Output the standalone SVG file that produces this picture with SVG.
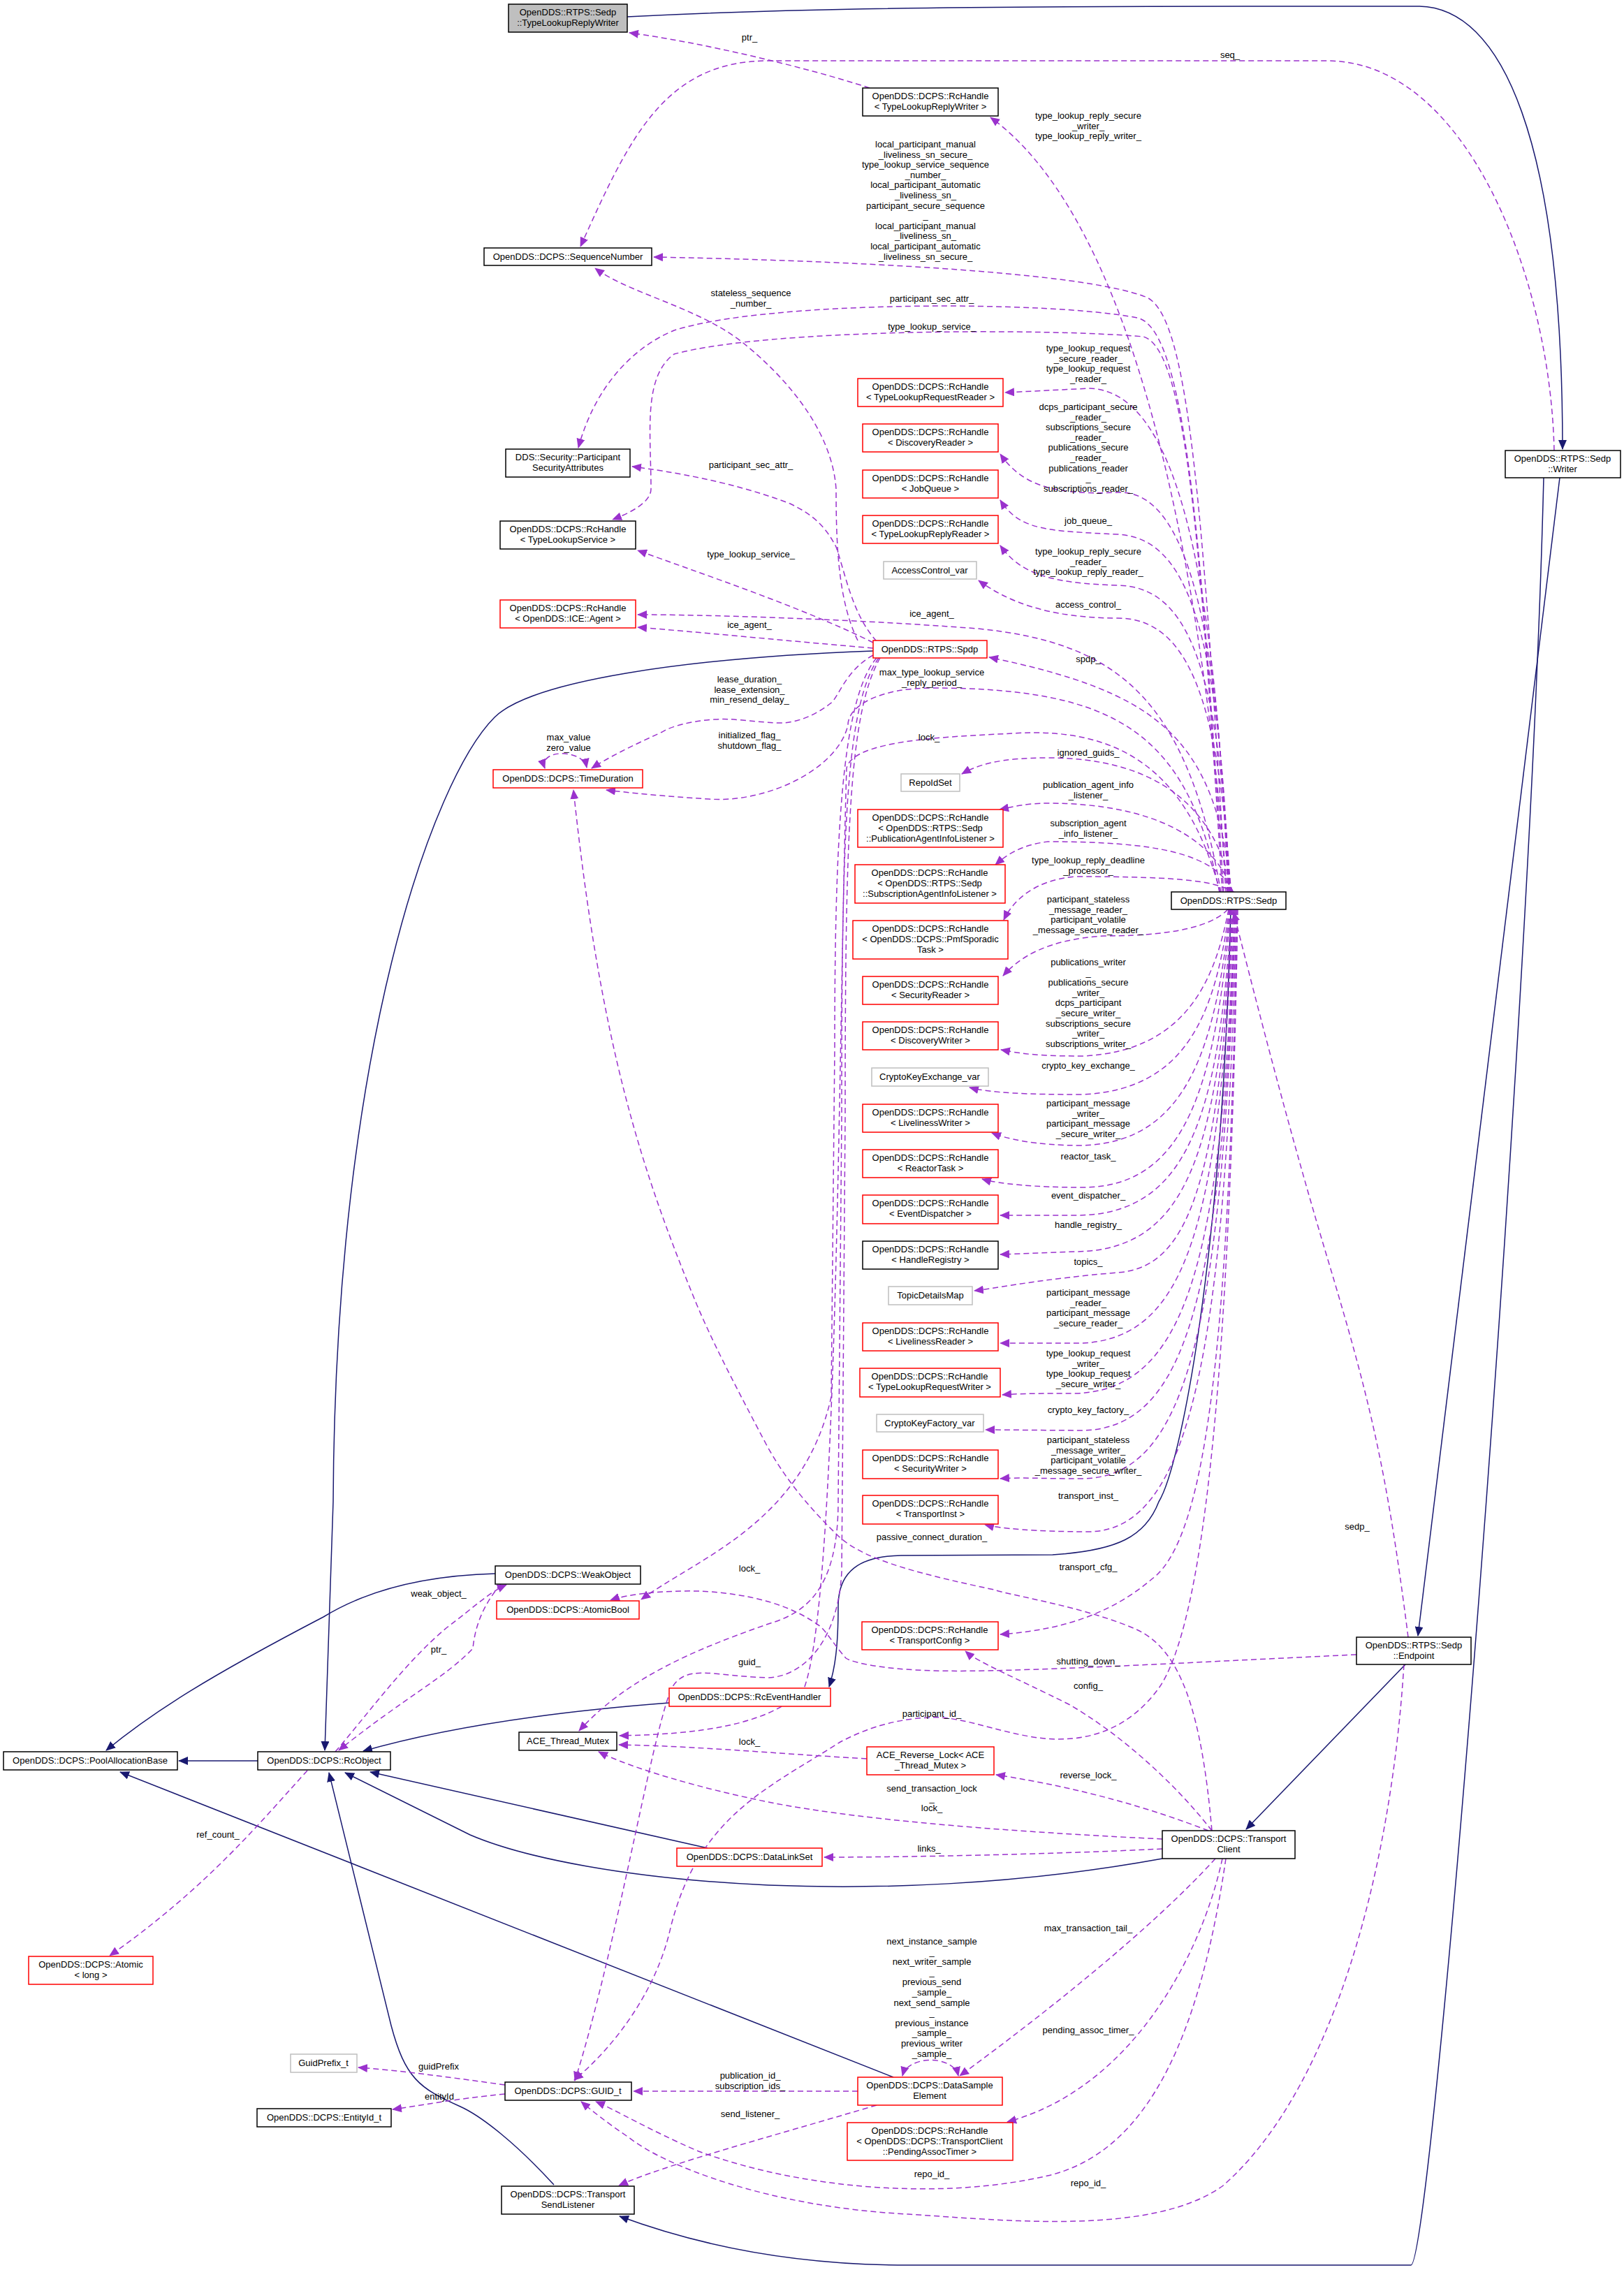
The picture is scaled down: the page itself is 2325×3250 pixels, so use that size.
<svg xmlns="http://www.w3.org/2000/svg" width="2325" height="3250" viewBox="0 0 2325 3250">
<style>
.bg{fill:#fff}
.n rect{fill:#fff;stroke:#000;stroke-width:1.5}
.n.r rect{stroke:#ff0000}
.n.g rect{stroke:#bfbfbf}
.n.s rect{fill:#bfbfbf}
text{font-family:"Liberation Sans",Arial,sans-serif;font-size:13px;fill:#000}
.n text{text-anchor:middle}
.l text,text.l{text-anchor:middle}
.inh{fill:none;stroke:#191970;stroke-width:1.5;marker-end:url(#ai)}
.use{fill:none;stroke:#9a32cd;stroke-width:1.5;stroke-dasharray:8,5;marker-end:url(#au)}
</style>
<defs>
<marker id="ai" markerUnits="userSpaceOnUse" markerWidth="14" markerHeight="12" refX="13" refY="6" orient="auto"><path d="M0,0 L14,6 L0,12 z" fill="#191970"/></marker>
<marker id="au" markerUnits="userSpaceOnUse" markerWidth="14" markerHeight="12" refX="13" refY="6" orient="auto"><path d="M0,0 L14,6 L0,12 z" fill="#9a32cd"/></marker>
<marker id="aus" markerUnits="userSpaceOnUse" markerWidth="14" markerHeight="12" refX="13" refY="6" orient="auto-start-reverse"><path d="M0,0 L14,6 L0,12 z" fill="#9a32cd"/></marker>
</defs>
<rect class="bg" width="2325" height="3250"/>
<g id="edges">
<path class="inh" d="M898,24 C1100,14 1300,9 1800,9 L2030,9 C2150,9 2237,200 2237,643"/>
<path class="inh" d="M2233,684 L2030,2342"/>
<path class="inh" d="M2012,2383 L1784,2619"/>
<path class="inh" d="M1250,932 C980,942 760,975 708,1027 C620,1115 480,1500 477,2150 L465,2506"/>
<path class="inh" d="M709,2253 C600,2256 520,2280 463,2315 C300,2400 220,2450 152,2506"/>
<path class="inh" d="M369,2521 L256,2521"/>
<path class="inh" d="M958,2438 C800,2450 650,2470 520,2507"/>
<path class="inh" d="M1013,2646 L530,2537"/>
<path class="inh" d="M1664,2661 C1450,2700 1250,2705 1100,2699 C900,2690 750,2660 673,2627 L494,2538"/>
<path class="inh" d="M1279,2974 L172,2537"/>
<path class="inh" d="M793,3128 C740,3070 690,3030 659,3016 C600,2990 580,2975 560,2900 L471,2538"/>
<path class="inh" d="M1762,1302 C1750,1800 1690,2100 1659,2150 C1640,2200 1600,2220 1507,2226 L1290,2227 C1230,2228 1200,2250 1200,2300 C1200,2360 1195,2390 1187,2415"/>
<path class="inh" d="M2210,684 C2190,1500 2050,3243 2020,3243 L1300,3243 C1100,3243 960,3200 887,3173"/>

<path class="use" d="M1245,126 C1150,95 1000,60 901,47"/>
<path class="use" d="M2225,645 C2220,400 2100,87 1900,87 L1100,87 C950,87 900,200 831,353"/>
<path class="use" d="M1757,1278 C1710,700 1600,300 1418,168"/>
<path class="use" d="M1755,1278 C1720,700 1700,440 1637,424 C1560,395 1300,375 936,368"/>
<path class="use" d="M1752,1278 C1720,800 1700,470 1628,455 C1500,430 1100,430 965,473 C900,500 850,560 828,641"/>
<path class="use" d="M1750,1278 C1720,800 1700,500 1637,482 C1500,470 1100,470 965,507 C920,540 932,620 932,700 C932,720 900,735 877,744"/>
<path class="use" d="M1758,1278 C1740,800 1680,560 1560,556 L1439,562"/>
<path class="use" d="M1759,1278 C1745,900 1700,700 1600,705 C1500,710 1460,690 1432,650"/>
<path class="use" d="M1760,1278 C1745,900 1700,770 1600,765 C1500,760 1460,760 1432,716"/>
<path class="use" d="M1761,1278 C1745,950 1700,840 1600,838 C1500,835 1460,820 1432,781"/>
<path class="use" d="M1762,1278 C1745,1000 1700,885 1600,885 C1500,885 1440,860 1401,831"/>
<path class="use" d="M1748,1278 C1700,1000 1600,920 1400,900 C1200,885 1000,880 913,880"/>
<path class="use" d="M1763,1278 C1740,1050 1650,990 1416,941"/>
<path class="use" d="M1746,1278 C1700,1050 1600,985 1334,985 C1260,985 1214,1010 1214,1038 C1200,1100 1100,1150 1015,1144 C950,1140 900,1135 868,1131"/>
<path class="use" d="M1747,1278 C1700,1100 1600,1040 1450,1050 C1350,1055 1220,1060 1212,1100 C1200,1500 1200,2300 1150,2420 C1100,2470 1000,2483 887,2485"/>
<path class="use" d="M1764,1278 C1740,1150 1650,1085 1500,1085 C1430,1085 1400,1095 1377,1108"/>
<path class="use" d="M1765,1278 C1740,1200 1650,1150 1500,1150 C1470,1150 1450,1155 1431,1159"/>
<path class="use" d="M1766,1278 C1740,1220 1650,1205 1500,1205 C1460,1210 1440,1225 1425,1238"/>
<path class="use" d="M1768,1278 C1740,1262 1700,1255 1540,1255 C1480,1260 1450,1290 1437,1317"/>
<path class="use" d="M1758,1302 C1740,1320 1700,1340 1580,1340 C1500,1345 1460,1370 1436,1397"/>
<path class="use" d="M1759,1302 C1740,1400 1700,1505 1550,1512 C1480,1512 1460,1508 1433,1503"/>
<path class="use" d="M1760,1302 C1740,1450 1700,1560 1550,1567 C1470,1567 1420,1565 1388,1557"/>
<path class="use" d="M1761,1302 C1740,1500 1700,1635 1550,1640 C1480,1640 1440,1630 1420,1622"/>
<path class="use" d="M1762,1302 C1740,1550 1700,1700 1550,1700 C1480,1700 1430,1695 1406,1688"/>
<path class="use" d="M1763,1302 C1745,1600 1700,1740 1540,1740 L1432,1740"/>
<path class="use" d="M1764,1302 C1745,1650 1700,1790 1540,1792 L1432,1796"/>
<path class="use" d="M1765,1302 C1745,1700 1700,1815 1600,1822 C1500,1830 1420,1845 1395,1848"/>
<path class="use" d="M1766,1302 C1745,1750 1700,1915 1550,1923 L1432,1923"/>
<path class="use" d="M1767,1302 C1750,1800 1700,1990 1540,1995 C1490,1995 1460,1995 1435,1997"/>
<path class="use" d="M1768,1302 C1750,1850 1700,2045 1550,2048 L1411,2047"/>
<path class="use" d="M1769,1302 C1750,1900 1700,2115 1550,2117 C1490,2117 1460,2115 1432,2117"/>
<path class="use" d="M1770,1302 C1755,1950 1700,2190 1560,2193 C1480,2193 1430,2188 1410,2183"/>
<path class="use" d="M1771,1302 C1760,1900 1730,2200 1650,2260 C1580,2320 1500,2335 1432,2340"/>
<path class="use" d="M1772,1302 C1760,2000 1720,2330 1659,2417 C1620,2470 1570,2490 1515,2490 C1450,2490 1380,2455 1330,2459 C1270,2462 1230,2480 1203,2494 C1100,2560 1000,2600 960,2760 C940,2850 880,2930 822,2978"/>
<path class="use" d="M2016,2344 C1985,2100 1960,2000 1900,1800 C1840,1600 1790,1400 1766,1306"/>

<path class="use" d="M1228,917 C1200,860 1197,780 1197,700 C1190,600 1100,520 1064,491 C1000,440 900,420 852,384"/>
<path class="use" d="M1255,918 C1220,880 1210,820 1197,783 C1180,750 1160,735 1131,721 C1050,690 960,675 905,668"/>
<path class="use" d="M1250,920 C1150,870 1000,820 913,788"/>
<path class="use" d="M1250,928 C1100,915 1000,905 913,898"/>
<path class="use" d="M1250,938 C1210,960 1200,1000 1189,1007 C1160,1030 1130,1036 1114,1035 C1070,1033 1050,1028 1023,1030 C990,1032 960,1040 948,1048 C900,1070 870,1085 847,1100"/>
<path class="use" d="M1255,942 C1205,1000 1195,1200 1195,1500 L1190,2000 C1150,2180 1000,2230 918,2290"/>
<path class="use" d="M1258,942 C1210,1010 1205,1200 1205,1600 L1200,2150 C1200,2280 1150,2310 1100,2325 C1000,2360 900,2400 829,2478"/>
<path class="use" d="M1260,942 C1215,1020 1210,1200 1210,1600 L1205,2250 C1200,2350 1150,2400 1100,2402 C1020,2400 980,2380 960,2420 C930,2500 880,2800 823,2979"/>
<path class="use" style="marker-start:url(#aus)" d="M780,1100 C770,1072 835,1072 840,1099"/>
<path class="use" d="M1735,2621 C1720,2450 1690,2360 1625,2332 C1550,2300 1450,2285 1423,2276 C1300,2250 1230,2230 1197,2196 C1150,2150 1120,2110 1097,2068 C1040,1960 1020,1920 998,1869 C920,1680 860,1500 821,1131"/>
<path class="use" d="M1942,2369 C1700,2380 1450,2395 1338,2392 C1260,2390 1220,2380 1211,2374 C1190,2350 1180,2330 1169,2325 C1120,2290 1050,2280 1000,2278 C950,2277 900,2282 874,2291"/>
<path class="use" d="M1735,2621 C1680,2550 1600,2480 1530,2440 C1450,2400 1400,2380 1382,2364"/>
<path class="use" d="M1241,2518 C1100,2510 1000,2500 886,2498"/>
<path class="use" d="M1730,2621 C1650,2590 1550,2560 1426,2541"/>
<path class="use" d="M1664,2633 C1500,2625 1250,2610 1100,2580 C1000,2560 900,2530 857,2508"/>
<path class="use" d="M1664,2647 C1500,2655 1300,2659 1180,2659"/>
<path class="use" d="M1740,2661 C1650,2760 1500,2880 1374,2972"/>
<path class="use" d="M1750,2661 C1720,2800 1620,2990 1442,3038"/>
<path class="use" style="marker-start:url(#aus)" d="M1292,2972 C1300,2942 1365,2942 1372,2972"/>
<path class="use" d="M1228,2994 L907,2994"/>
<path class="use" d="M1255,3014 C1100,3060 950,3100 886,3129"/>
<path class="use" d="M1755,2661 C1720,2900 1650,3080 1500,3115 C1350,3150 1150,3135 1000,3080 C930,3050 880,3020 853,3009"/>
<path class="use" d="M2010,2383 C1990,2700 1900,3000 1750,3130 C1650,3200 1450,3180 1300,3170 C1100,3160 950,3100 900,3060 C870,3040 845,3020 832,3009"/>
<path class="use" d="M440,2535 C380,2600 300,2700 157,2800"/>
<path class="use" d="M480,2508 C530,2450 580,2380 640,2330 C680,2300 700,2280 725,2269"/>
<path class="use" d="M717,2268 C690,2300 680,2330 677,2360 C640,2400 580,2430 485,2506"/>
<path class="use" d="M723,2985 C650,2975 580,2965 513,2960"/>
<path class="use" d="M723,2998 C650,3005 600,3015 562,3020"/>
</g>
<g id="labels" class="l">
<text x="1073" y="58">ptr_</text>
<text x="1761" y="83">seq_</text>
<text x="1558" y="170">type_lookup_reply_secure<tspan x="1558" dy="14.6">_writer_</tspan><tspan x="1558" dy="14.6">type_lookup_reply_writer_</tspan></text>
<text x="1325" y="211">local_participant_manual<tspan x="1325" dy="14.6">_liveliness_sn_secure_</tspan><tspan x="1325" dy="14.6">type_lookup_service_sequence</tspan><tspan x="1325" dy="14.6">_number_</tspan><tspan x="1325" dy="14.6">local_participant_automatic</tspan><tspan x="1325" dy="14.6">_liveliness_sn_</tspan><tspan x="1325" dy="14.6">participant_secure_sequence</tspan><tspan x="1325" dy="14.6">_</tspan><tspan x="1325" dy="14.6">local_participant_manual</tspan><tspan x="1325" dy="14.6">_liveliness_sn_</tspan><tspan x="1325" dy="14.6">local_participant_automatic</tspan><tspan x="1325" dy="14.6">_liveliness_sn_secure_</tspan></text>
<text x="1075" y="424">stateless_sequence<tspan x="1075" dy="14.6">_number_</tspan></text>
<text x="1334" y="432">participant_sec_attr_</text>
<text x="1334" y="472">type_lookup_service_</text>
<text x="1558" y="503">type_lookup_request<tspan x="1558" dy="14.6">_secure_reader_</tspan><tspan x="1558" dy="14.6">type_lookup_request</tspan><tspan x="1558" dy="14.6">_reader_</tspan></text>
<text x="1558" y="587">dcps_participant_secure<tspan x="1558" dy="14.6">_reader_</tspan><tspan x="1558" dy="14.6">subscriptions_secure</tspan><tspan x="1558" dy="14.6">_reader_</tspan><tspan x="1558" dy="14.6">publications_secure</tspan><tspan x="1558" dy="14.6">_reader_</tspan><tspan x="1558" dy="14.6">publications_reader</tspan><tspan x="1558" dy="14.6">_</tspan><tspan x="1558" dy="14.6">subscriptions_reader_</tspan></text>
<text x="1075" y="670">participant_sec_attr_</text>
<text x="1558" y="750">job_queue_</text>
<text x="1075" y="798">type_lookup_service_</text>
<text x="1558" y="794">type_lookup_reply_secure<tspan x="1558" dy="14.6">_reader_</tspan><tspan x="1558" dy="14.6">type_lookup_reply_reader_</tspan></text>
<text x="1558" y="870">access_control_</text>
<text x="1334" y="883">ice_agent_</text>
<text x="1073" y="899">ice_agent_</text>
<text x="1558" y="948">spdp_</text>
<text x="1334" y="967">max_type_lookup_service<tspan x="1334" dy="14.6">_reply_period_</tspan></text>
<text x="1073" y="977">lease_duration_<tspan x="1073" dy="14.6">lease_extension_</tspan><tspan x="1073" dy="14.6">min_resend_delay_</tspan></text>
<text x="1073" y="1057">initialized_flag_<tspan x="1073" dy="14.6">shutdown_flag_</tspan></text>
<text x="814" y="1060">max_value<tspan x="814" dy="14.6">zero_value</tspan></text>
<text x="1330" y="1060">lock_</text>
<text x="1558" y="1082">ignored_guids_</text>
<text x="1558" y="1128">publication_agent_info<tspan x="1558" dy="14.6">_listener_</tspan></text>
<text x="1558" y="1183">subscription_agent<tspan x="1558" dy="14.6">_info_listener_</tspan></text>
<text x="1558" y="1236">type_lookup_reply_deadline<tspan x="1558" dy="14.6">_processor_</tspan></text>
<text x="1558" y="1292">participant_stateless<tspan x="1558" dy="14.6">_message_reader_</tspan><tspan x="1558" dy="14.6">participant_volatile</tspan><tspan x="1558" dy="14.6">_message_secure_reader_</tspan></text>
<text x="1558" y="1382">publications_writer<tspan x="1558" dy="14.6">_</tspan><tspan x="1558" dy="14.6">publications_secure</tspan><tspan x="1558" dy="14.6">_writer_</tspan><tspan x="1558" dy="14.6">dcps_participant</tspan><tspan x="1558" dy="14.6">_secure_writer_</tspan><tspan x="1558" dy="14.6">subscriptions_secure</tspan><tspan x="1558" dy="14.6">_writer_</tspan><tspan x="1558" dy="14.6">subscriptions_writer_</tspan></text>
<text x="1558" y="1530">crypto_key_exchange_</text>
<text x="1558" y="1584">participant_message<tspan x="1558" dy="14.6">_writer_</tspan><tspan x="1558" dy="14.6">participant_message</tspan><tspan x="1558" dy="14.6">_secure_writer_</tspan></text>
<text x="1558" y="1660">reactor_task_</text>
<text x="1558" y="1716">event_dispatcher_</text>
<text x="1558" y="1758">handle_registry_</text>
<text x="1558" y="1811">topics_</text>
<text x="1558" y="1855">participant_message<tspan x="1558" dy="14.6">_reader_</tspan><tspan x="1558" dy="14.6">participant_message</tspan><tspan x="1558" dy="14.6">_secure_reader_</tspan></text>
<text x="1558" y="1942">type_lookup_request<tspan x="1558" dy="14.6">_writer_</tspan><tspan x="1558" dy="14.6">type_lookup_request</tspan><tspan x="1558" dy="14.6">_secure_writer_</tspan></text>
<text x="1558" y="2023">crypto_key_factory_</text>
<text x="1558" y="2066">participant_stateless<tspan x="1558" dy="14.6">_message_writer_</tspan><tspan x="1558" dy="14.6">participant_volatile</tspan><tspan x="1558" dy="14.6">_message_secure_writer_</tspan></text>
<text x="1558" y="2146">transport_inst_</text>
<text x="1943" y="2190">sedp_</text>
<text x="1334" y="2205">passive_connect_duration_</text>
<text x="1558" y="2248">transport_cfg_</text>
<text x="1073" y="2250">lock_</text>
<text x="628" y="2286">weak_object_</text>
<text x="628" y="2366">ptr_</text>
<text x="1073" y="2384">guid_</text>
<text x="1558" y="2383">shutting_down_</text>
<text x="1558" y="2418">config_</text>
<text x="1334" y="2458">participant_id_</text>
<text x="1073" y="2498">lock_</text>
<text x="1558" y="2546">reverse_lock_</text>
<text x="1334" y="2565">send_transaction_lock<tspan x="1334" dy="14">_</tspan><tspan x="1334" dy="14">lock_</tspan></text>
<text x="312" y="2631">ref_count_</text>
<text x="1330" y="2651">links_</text>
<text x="1558" y="2765">max_transaction_tail_</text>
<text x="1334" y="2784">next_instance_sample<tspan x="1334" dy="14.6">_</tspan><tspan x="1334" dy="14.6">next_writer_sample</tspan><tspan x="1334" dy="14.6">_</tspan><tspan x="1334" dy="14.6">previous_send</tspan><tspan x="1334" dy="14.6">_sample_</tspan><tspan x="1334" dy="14.6">next_send_sample</tspan><tspan x="1334" dy="14.6">_</tspan><tspan x="1334" dy="14.6">previous_instance</tspan><tspan x="1334" dy="14.6">_sample_</tspan><tspan x="1334" dy="14.6">previous_writer</tspan><tspan x="1334" dy="14.6">_sample_</tspan></text>
<text x="1558" y="2911">pending_assoc_timer_</text>
<text x="628" y="2963">guidPrefix</text>
<text x="1074" y="2976">publication_id_<tspan x="1074" dy="14.6">subscription_ids_</tspan></text>
<text x="629" y="3006">entityId</text>
<text x="1074" y="3031">send_listener_</text>
<text x="1334" y="3117">repo_id_</text>
<text x="1558" y="3130">repo_id_</text>
</g>
<g id="n1" class="n s"><rect x="728" y="6" width="170" height="40"/><text x="813" y="22">OpenDDS::RTPS::Sedp</text><text x="813" y="37">::TypeLookupReplyWriter</text></g>
<g id="n2" class="n"><rect x="1235" y="126" width="194" height="40"/><text x="1332" y="142">OpenDDS::DCPS::RcHandle</text><text x="1332" y="157">&lt; TypeLookupReplyWriter &gt;</text></g>
<g id="n3" class="n"><rect x="693" y="355" width="240" height="25"/><text x="813" y="372">OpenDDS::DCPS::SequenceNumber</text></g>
<g id="n4" class="n"><rect x="724" y="643" width="178" height="40"/><text x="813" y="659">DDS::Security::Participant</text><text x="813" y="674">SecurityAttributes</text></g>
<g id="n5" class="n r"><rect x="1228" y="542" width="208" height="40"/><text x="1332" y="558">OpenDDS::DCPS::RcHandle</text><text x="1332" y="573">&lt; TypeLookupRequestReader &gt;</text></g>
<g id="n6" class="n r"><rect x="1235" y="607" width="194" height="40"/><text x="1332" y="623">OpenDDS::DCPS::RcHandle</text><text x="1332" y="638">&lt; DiscoveryReader &gt;</text></g>
<g id="n7" class="n r"><rect x="1235" y="673" width="194" height="40"/><text x="1332" y="689">OpenDDS::DCPS::RcHandle</text><text x="1332" y="704">&lt; JobQueue &gt;</text></g>
<g id="n8" class="n r"><rect x="1235" y="738" width="194" height="40"/><text x="1332" y="754">OpenDDS::DCPS::RcHandle</text><text x="1332" y="769">&lt; TypeLookupReplyReader &gt;</text></g>
<g id="n9" class="n g"><rect x="1265" y="804" width="133" height="25"/><text x="1331" y="821">AccessControl_var</text></g>
<g id="n10" class="n"><rect x="716" y="746" width="194" height="40"/><text x="813" y="762">OpenDDS::DCPS::RcHandle</text><text x="813" y="777">&lt; TypeLookupService &gt;</text></g>
<g id="n11" class="n r"><rect x="716" y="859" width="194" height="40"/><text x="813" y="875">OpenDDS::DCPS::RcHandle</text><text x="813" y="890">&lt; OpenDDS::ICE::Agent &gt;</text></g>
<g id="n12" class="n r"><rect x="1250" y="917" width="163" height="25"/><text x="1331" y="934">OpenDDS::RTPS::Spdp</text></g>
<g id="n13" class="n r"><rect x="706" y="1102" width="214" height="26"/><text x="813" y="1119">OpenDDS::DCPS::TimeDuration</text></g>
<g id="n14" class="n g"><rect x="1290" y="1108" width="84" height="25"/><text x="1332" y="1125">RepoIdSet</text></g>
<g id="n15" class="n r"><rect x="1228" y="1159" width="208" height="54"/><text x="1332" y="1175">OpenDDS::DCPS::RcHandle</text><text x="1332" y="1190">&lt; OpenDDS::RTPS::Sedp</text><text x="1332" y="1205">::PublicationAgentInfoListener &gt;</text></g>
<g id="n16" class="n r"><rect x="1224" y="1238" width="215" height="55"/><text x="1331" y="1254">OpenDDS::DCPS::RcHandle</text><text x="1331" y="1269">&lt; OpenDDS::RTPS::Sedp</text><text x="1331" y="1284">::SubscriptionAgentInfoListener &gt;</text></g>
<g id="n17" class="n r"><rect x="1221" y="1318" width="222" height="55"/><text x="1332" y="1334">OpenDDS::DCPS::RcHandle</text><text x="1332" y="1349">&lt; OpenDDS::DCPS::PmfSporadic</text><text x="1332" y="1364">Task &gt;</text></g>
<g id="n18" class="n"><rect x="1677" y="1277" width="164" height="25"/><text x="1759" y="1294">OpenDDS::RTPS::Sedp</text></g>
<g id="n19" class="n"><rect x="2155" y="645" width="165" height="39"/><text x="2237" y="661">OpenDDS::RTPS::Sedp</text><text x="2237" y="676">::Writer</text></g>
<g id="n20" class="n r"><rect x="1235" y="1398" width="194" height="40"/><text x="1332" y="1414">OpenDDS::DCPS::RcHandle</text><text x="1332" y="1429">&lt; SecurityReader &gt;</text></g>
<g id="n21" class="n r"><rect x="1235" y="1463" width="194" height="40"/><text x="1332" y="1479">OpenDDS::DCPS::RcHandle</text><text x="1332" y="1494">&lt; DiscoveryWriter &gt;</text></g>
<g id="n22" class="n g"><rect x="1248" y="1529" width="167" height="26"/><text x="1331" y="1546">CryptoKeyExchange_var</text></g>
<g id="n23" class="n r"><rect x="1235" y="1581" width="194" height="40"/><text x="1332" y="1597">OpenDDS::DCPS::RcHandle</text><text x="1332" y="1612">&lt; LivelinessWriter &gt;</text></g>
<g id="n24" class="n r"><rect x="1235" y="1646" width="194" height="40"/><text x="1332" y="1662">OpenDDS::DCPS::RcHandle</text><text x="1332" y="1677">&lt; ReactorTask &gt;</text></g>
<g id="n25" class="n r"><rect x="1235" y="1711" width="194" height="41"/><text x="1332" y="1727">OpenDDS::DCPS::RcHandle</text><text x="1332" y="1742">&lt; EventDispatcher &gt;</text></g>
<g id="n26" class="n"><rect x="1235" y="1777" width="194" height="40"/><text x="1332" y="1793">OpenDDS::DCPS::RcHandle</text><text x="1332" y="1808">&lt; HandleRegistry &gt;</text></g>
<g id="n27" class="n g"><rect x="1272" y="1842" width="120" height="26"/><text x="1332" y="1859">TopicDetailsMap</text></g>
<g id="n28" class="n r"><rect x="1235" y="1894" width="194" height="40"/><text x="1332" y="1910">OpenDDS::DCPS::RcHandle</text><text x="1332" y="1925">&lt; LivelinessReader &gt;</text></g>
<g id="n29" class="n r"><rect x="1231" y="1959" width="201" height="41"/><text x="1331" y="1975">OpenDDS::DCPS::RcHandle</text><text x="1331" y="1990">&lt; TypeLookupRequestWriter &gt;</text></g>
<g id="n30" class="n g"><rect x="1255" y="2025" width="153" height="25"/><text x="1331" y="2042">CryptoKeyFactory_var</text></g>
<g id="n31" class="n r"><rect x="1235" y="2076" width="194" height="41"/><text x="1332" y="2092">OpenDDS::DCPS::RcHandle</text><text x="1332" y="2107">&lt; SecurityWriter &gt;</text></g>
<g id="n32" class="n r"><rect x="1235" y="2141" width="194" height="41"/><text x="1332" y="2157">OpenDDS::DCPS::RcHandle</text><text x="1332" y="2172">&lt; TransportInst &gt;</text></g>
<g id="n33" class="n r"><rect x="1234" y="2322" width="195" height="40"/><text x="1331" y="2338">OpenDDS::DCPS::RcHandle</text><text x="1331" y="2353">&lt; TransportConfig &gt;</text></g>
<g id="n34" class="n"><rect x="1942" y="2344" width="164" height="39"/><text x="2024" y="2360">OpenDDS::RTPS::Sedp</text><text x="2024" y="2375">::Endpoint</text></g>
<g id="n35" class="n"><rect x="709" y="2242" width="208" height="26"/><text x="813" y="2259">OpenDDS::DCPS::WeakObject</text></g>
<g id="n36" class="n r"><rect x="711" y="2292" width="204" height="26"/><text x="813" y="2309">OpenDDS::DCPS::AtomicBool</text></g>
<g id="n37" class="n r"><rect x="958" y="2417" width="231" height="26"/><text x="1073" y="2434">OpenDDS::DCPS::RcEventHandler</text></g>
<g id="n38" class="n"><rect x="743" y="2480" width="140" height="26"/><text x="813" y="2497">ACE_Thread_Mutex</text></g>
<g id="n39" class="n r"><rect x="1241" y="2501" width="182" height="40"/><text x="1332" y="2517">ACE_Reverse_Lock&lt; ACE</text><text x="1332" y="2532">_Thread_Mutex &gt;</text></g>
<g id="n40" class="n"><rect x="5" y="2508" width="249" height="26"/><text x="129" y="2525">OpenDDS::DCPS::PoolAllocationBase</text></g>
<g id="n41" class="n"><rect x="369" y="2508" width="190" height="26"/><text x="464" y="2525">OpenDDS::DCPS::RcObject</text></g>
<g id="n42" class="n r"><rect x="969" y="2646" width="208" height="26"/><text x="1073" y="2663">OpenDDS::DCPS::DataLinkSet</text></g>
<g id="n43" class="n"><rect x="1664" y="2621" width="190" height="40"/><text x="1759" y="2637">OpenDDS::DCPS::Transport</text><text x="1759" y="2652">Client</text></g>
<g id="n44" class="n r"><rect x="41" y="2801" width="178" height="40"/><text x="130" y="2817">OpenDDS::DCPS::Atomic</text><text x="130" y="2832">&lt; long &gt;</text></g>
<g id="n45" class="n g"><rect x="416" y="2941" width="95" height="26"/><text x="463" y="2958">GuidPrefix_t</text></g>
<g id="n46" class="n"><rect x="723" y="2981" width="181" height="26"/><text x="813" y="2998">OpenDDS::DCPS::GUID_t</text></g>
<g id="n47" class="n"><rect x="368" y="3019" width="192" height="26"/><text x="464" y="3036">OpenDDS::DCPS::EntityId_t</text></g>
<g id="n48" class="n r"><rect x="1228" y="2974" width="207" height="40"/><text x="1331" y="2990">OpenDDS::DCPS::DataSample</text><text x="1331" y="3005">Element</text></g>
<g id="n49" class="n r"><rect x="1213" y="3039" width="237" height="54"/><text x="1331" y="3055">OpenDDS::DCPS::RcHandle</text><text x="1331" y="3070">&lt; OpenDDS::DCPS::TransportClient</text><text x="1331" y="3085">::PendingAssocTimer &gt;</text></g>
<g id="n50" class="n"><rect x="718" y="3130" width="190" height="40"/><text x="813" y="3146">OpenDDS::DCPS::Transport</text><text x="813" y="3161">SendListener</text></g>
</svg>
